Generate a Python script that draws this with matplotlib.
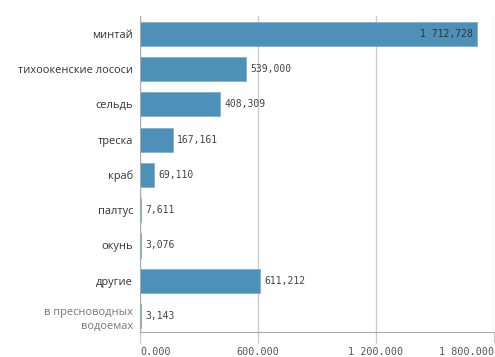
import matplotlib
matplotlib.use("Agg")
import matplotlib.pyplot as plt
from matplotlib.ticker import FixedLocator

categories = ["минтай", "тихоокенские лососи", "сельдь", "треска", "краб",
              "палтус", "окунь", "другие", "в пресноводных\nводоемах"]
values = [1712728, 539000, 408309, 167161, 69110, 7611, 3076, 611212, 3143]
value_labels = ["1 712,728", "539,000", "408,309", "167,161", "69,110",
                "7,611", "3,076", "611,212", "3,143"]
xticks = [0, 600000, 1200000, 1800000]
xtick_labels = ["0.000", "600.000", "1 200.000", "1 800.000"]

fig = plt.figure(figsize=(4.95, 3.57), dpi=100)
ax = fig.add_axes([140/495, 25/357, 354/495, 316/357])

bar_color = "#4e91b8"
ypos = list(range(len(categories)))
ax.barh(ypos, values, height=0.68, color=bar_color, edgecolor="#7fb0cf",
        linewidth=0.6, zorder=3)

ax.set_xlim(0, 1800000)
ax.set_ylim(8.45, -0.5)

ax.xaxis.set_major_locator(FixedLocator(xticks))
ax.set_xticklabels(xtick_labels, family="DejaVu Sans Mono", fontsize=7.3, color="#555555")
for lbl, ha in zip(ax.get_xticklabels(), ["left", "center", "center", "right"]):
    lbl.set_horizontalalignment(ha)
ax.tick_params(axis="x", length=8, width=1, color="#cccccc", pad=3)
ax.grid(axis="x", color="#cccccc", linewidth=1, zorder=0)

ax.set_yticks(ypos)
ax.set_yticklabels(categories, family="Open Sans", fontsize=7.9, color="#333333")
ax.tick_params(axis="y", length=0, pad=5)
ylabels = ax.get_yticklabels()
ylabels[-1].set_color("#777777")
ylabels[-1].set_linespacing(1.45)

for s in ["top", "right"]:
    ax.spines[s].set_visible(False)
ax.spines["left"].set_color("#aaaaaa")
ax.spines["bottom"].set_color("#aaaaaa")
ax.spines["left"].set_zorder(4)

offset = 22000
for y, v, t in zip(ypos, values, value_labels):
    if v > 1500000:
        ax.text(v - offset, y, t, ha="right", va="center", family="DejaVu Sans Mono",
                fontsize=7, color="#333333", zorder=5)
    else:
        ax.text(v + offset, y, t, ha="left", va="center", family="DejaVu Sans Mono",
                fontsize=7, color="#444444", zorder=5)

fig.savefig("out.png", dpi=100)
